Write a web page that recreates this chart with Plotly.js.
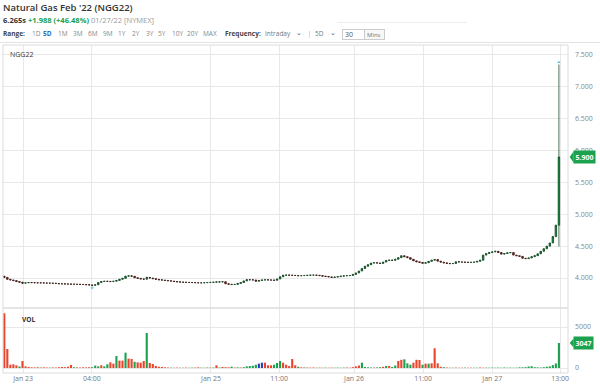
<!DOCTYPE html>
<html><head><meta charset="utf-8">
<script src="https://cdn.plot.ly/plotly-3.0.1.min.js"></script>
<style>
body{margin:0;background:#fff;font-family:"Open Sans",sans-serif;}
#wrap{position:relative;width:600px;height:386px;overflow:hidden;}
#chart{position:absolute;left:0;top:0;width:600px;height:386px;}
.h{position:absolute;white-space:nowrap;z-index:5;}
.box{position:absolute;border:1px solid #ccc;z-index:5;box-sizing:border-box;}
</style></head><body>
<div id="wrap">
<div id="chart"></div>
<div class="h" style="left:3px;top:1px;font-size:9.5px;font-weight:600;color:#333;">Natural Gas Feb '22 (NGG22)</div>
<div class="h" style="left:3px;top:15px;font-size:7.5px;"><b style="color:#333">6.265s</b> <b style="color:#1e9e4a">+1.988 (+46.48%)</b> <span style="color:#999">01/27/22 [NYMEX]</span></div>
<div class="h" style="left:3px;top:29px;font-size:6.5px;font-weight:700;color:#444;">Range:</div>
<div id="ranges"></div>
<div class="h" style="left:225px;top:29px;font-size:6.5px;font-weight:700;color:#444;">Frequency:</div>
<div class="h" style="left:265px;top:29px;font-size:6.5px;color:#777;">Intraday</div>
<div class="h" style="left:296px;top:28px;font-size:6.5px;color:#555;">&#8964;</div>
<div class="h" style="left:309px;top:31px;width:1px;height:7px;background:#ddd;"></div>
<div class="h" style="left:315px;top:29px;font-size:6.5px;color:#777;">5D</div>
<div class="h" style="left:330px;top:28px;font-size:6.5px;color:#555;">&#8964;</div>
<div class="box" style="left:342px;top:29px;width:23px;height:11px;"></div>
<div class="h" style="left:345px;top:30px;font-size:7px;color:#555;">30</div>
<div class="box" style="left:364px;top:29px;width:21px;height:11px;background:#f7f7f7;"></div>
<div class="h" style="left:367px;top:31px;font-size:6px;color:#777;">Mins</div>
<div class="h" style="left:337px;top:22px;width:130px;height:1px;background:#eee;"></div>
<div class="h" style="left:0;top:42px;width:600px;height:1px;background:#e3e3e3;"></div>
</div>
<script>
// ---- data ----
var rangeLabels = ['1D','5D','1M','3M','6M','9M','1Y','2Y','3Y','5Y','10Y','20Y','MAX'];
var rangeLeft   = [32,43,58,73,88,103,118,132,146,158,172,187,203];

var closes = [
4.010,3.980,3.970,3.960,3.945,3.935,3.920,3.925,3.930,3.928,
3.926,3.925,3.924,3.922,3.921,3.920,3.918,3.915,3.910,3.909,
3.907,3.905,3.904,3.902,3.901,3.900,3.898,3.895,3.891,3.886,
3.895,3.930,3.945,3.950,3.948,3.945,3.950,3.962,3.980,3.995,
4.030,4.035,4.028,4.005,3.995,3.985,3.982,4.010,4.000,3.990,
3.980,3.972,3.968,3.962,3.957,3.952,3.946,3.940,3.936,3.934,
3.932,3.930,3.929,3.927,3.925,3.925,3.927,3.930,3.932,3.935,
3.940,3.938,3.942,3.910,3.902,3.898,3.900,3.915,3.930,3.955,
3.975,3.972,3.970,3.950,3.962,3.970,3.972,3.970,3.968,3.965,
3.985,4.020,4.045,4.048,4.045,4.042,4.040,4.036,4.038,4.040,
4.043,4.046,4.047,4.044,4.038,4.030,4.025,4.018,4.010,4.015,
4.022,4.030,4.035,4.038,4.040,4.057,4.080,4.110,4.150,4.185,
4.210,4.235,4.240,4.235,4.230,4.250,4.275,4.282,4.278,4.295,
4.320,4.350,4.335,4.320,4.295,4.270,4.255,4.245,4.232,4.240,
4.262,4.280,4.290,4.265,4.250,4.238,4.230,4.226,4.228,4.255,
4.252,4.250,4.248,4.245,4.247,4.250,4.262,4.280,4.360,4.385,
4.400,4.410,4.420,4.400,4.375,4.385,4.395,4.400,4.360,4.350,
4.340,4.310,4.305,4.315,4.335,4.350,4.380,4.420,4.460,4.500,
4.550,4.650,4.830,5.900];
var firstOpen = 4.030;
// visible wicks: [bar index, high, low]
var wicks = [[6,3.925,3.905],[29,3.895,3.870],[47,4.020,3.985],[73,3.945,3.905],[183,7.350,4.495]];

var volumes = [
6670,2320,405,450,330,180,850,200,120,80,
70,90,60,80,60,50,70,60,90,120,
100,150,370,90,70,60,80,70,90,100,
290,200,330,200,450,690,530,1460,900,900,
1870,1140,1100,760,690,650,850,4270,610,490,
250,160,130,80,60,50,40,50,40,40,
50,40,50,60,80,50,40,60,50,60,
330,60,120,100,80,160,60,80,60,100,
200,240,280,400,530,650,650,330,330,400,
610,860,650,400,240,1100,330,150,80,70,
60,50,60,40,50,40,50,40,50,40,
50,40,50,60,40,100,200,300,650,120,
80,60,60,70,100,150,250,250,120,300,
850,1000,1060,570,400,650,1000,980,400,530,
530,570,2400,570,150,100,60,40,40,50,
40,40,50,40,40,40,40,60,40,50,
40,50,40,50,40,60,40,50,40,50,
80,80,100,180,220,100,80,60,100,150,
200,350,550,3047];
// u = up (green), d = down (red), n = unchanged (blue)
var volDir =
'ddddduddddddudduddddddduddddduuuduudduddudduddduddddddduddudduuddud'+
'udududddududuuuuunnddduuudddddududdduddudduuuuddddduuuuduududuudduuud'+
'ddududdddudududdudduudduuuuu';

var tickVals  = [6.2,28.9,68.2,90.7,115.4,138.2,161,183.4];
var tickText  = ['Jan 23','04:00','Jan 25','11:00','Jan 26','11:00','Jan 27','13:00'];
var lastPrice = 5.900, lastVol = 3047;

// ---- build ----
var rdiv = document.getElementById('ranges');
rangeLabels.forEach(function(t,i){
  var s=document.createElement('div'); s.className='h';
  s.style.cssText='left:'+rangeLeft[i]+'px;top:29px;font-size:6.5px;'+(t==='5D'?'color:#2a6ebb;font-weight:700;':'color:#888;');
  s.textContent=t; rdiv.appendChild(s);
});

var n = closes.length, xs=[], opens=[], highs=[], lows=[], bBase=[], bLen=[], bCol=[];
for (var i=0;i<n;i++){
  xs.push(i);
  var o = i===0?firstOpen:closes[i-1];
  opens.push(o);
  highs.push(Math.max(o,closes[i]));
  lows.push(Math.min(o,closes[i]));
  bBase.push(Math.min(o,closes[i]));
  bLen.push(Math.abs(closes[i]-o));
  bCol.push(closes[i]>=o?'#1ca14e':'#c8402c');
}
wicks.forEach(function(w){ highs[w[0]]=Math.max(highs[w[0]],w[1]); lows[w[0]]=Math.min(lows[w[0]],w[2]); });

var cmap={u:'#1ca14e',d:'#e8452c',n:'#2b3fb8'};
var vcol=[]; for (i=0;i<n;i++){ vcol.push(cmap[volDir.charAt(i)]||'#1ca14e'); }

var candle = {type:'candlestick', x:xs, open:opens, high:highs, low:lows, close:closes,
  xaxis:'x', yaxis:'y', whiskerwidth:0,
  increasing:{line:{color:'#1f4a2c',width:0.8},fillcolor:'#1ca14e'},
  decreasing:{line:{color:'#3a2220',width:0.8},fillcolor:'#c8402c'},
  hoverinfo:'skip', showlegend:false};
var bodies = {type:'bar', x:xs, y:bLen, base:bBase, xaxis:'x', yaxis:'y', width:0.55,
  marker:{color:bCol,line:{width:0}}, hoverinfo:'skip', showlegend:false};
var vol = {type:'bar', x:xs, y:volumes, xaxis:'x', yaxis:'y2', width:0.7,
  marker:{color:vcol,line:{width:0}}, hoverinfo:'skip', showlegend:false};
var marks = {type:'scatter', mode:'markers', x:[29,183], y:[3.845,7.385], xaxis:'x', yaxis:'y',
  marker:{symbol:['triangle-down','triangle-up'],size:3,color:'#5bc8d8'}, hoverinfo:'skip', showlegend:false};

var split = 65/328;
var gridc = '#e8e8e8';
var layout = {
  width:600, height:386, margin:{l:3,r:32,t:45,b:13},
  paper_bgcolor:'#fff', plot_bgcolor:'#fff', showlegend:false, barmode:'overlay',
  font:{family:'Open Sans, sans-serif', size:7, color:'#777'},
  xaxis:{range:[-0.43,186.0], anchor:'y2', tickmode:'array', tickvals:tickVals, ticktext:tickText,
    showgrid:true, gridcolor:gridc, gridwidth:1, zeroline:false, ticks:'', showline:false,
    rangeslider:{visible:false}, tickfont:{size:7,color:'#777'}, fixedrange:true},
  yaxis:{domain:[split,1], side:'right', anchor:'x', range:[3.53,7.656], tick0:4, dtick:0.5,
    tickformat:'.3f', showgrid:true, gridcolor:gridc, zeroline:false, ticks:'', ticklabelstandoff:6,
    tickfont:{size:7,color:'#888'}},
  yaxis2:{domain:[0,split], side:'right', anchor:'x', range:[-610,7317], tick0:0, dtick:5000,
    tickformat:'d', showgrid:true, gridcolor:gridc, zeroline:false, ticks:'', ticklabelstandoff:6,
    tickfont:{size:7,color:'#888'}},
  shapes:[
    {type:'rect',xref:'paper',yref:'paper',x0:0,x1:1,y0:split,y1:1,line:{color:'#dcdcdc',width:1}},
    {type:'rect',xref:'paper',yref:'paper',x0:0,x1:1,y0:0,y1:split,line:{color:'#dcdcdc',width:1}},
    {type:'path',xref:'paper',yref:'y',path:'M 1.003 '+lastPrice+' L 1.010 '+(lastPrice+0.09)+' L 1.010 '+(lastPrice-0.09)+' Z',fillcolor:'#1ca14e',line:{width:0}},
    {type:'path',xref:'paper',yref:'y2',path:'M 1.003 '+lastVol+' L 1.010 '+(lastVol+550)+' L 1.010 '+(lastVol-550)+' Z',fillcolor:'#1ca14e',line:{width:0}}
  ],
  annotations:[
    {xref:'paper',yref:'paper',x:0.009,y:0.99,xanchor:'left',yanchor:'top',text:'NGG22',showarrow:false,font:{size:7,color:'#333'}},
    {xref:'paper',yref:'paper',x:0.030,y:split-0.015,xanchor:'left',yanchor:'top',text:'<b>VOL</b>',showarrow:false,font:{size:6.5,color:'#333'}},
    {xref:'paper',yref:'y',x:1.009,y:lastPrice,xanchor:'left',yanchor:'middle',text:'<b>'+lastPrice.toFixed(3)+'</b>',showarrow:false,
      bgcolor:'#1ca14e',font:{size:7,color:'#fff'},borderpad:1.5},
    {xref:'paper',yref:'y2',x:1.009,y:lastVol,xanchor:'left',yanchor:'middle',text:'<b>'+lastVol+'</b>',showarrow:false,
      bgcolor:'#1ca14e',font:{size:7,color:'#fff'},borderpad:1.5}
  ]
};
Plotly.newPlot('chart',[vol,candle,bodies,marks],layout,{staticPlot:true,displayModeBar:false});
</script>
</body></html>
